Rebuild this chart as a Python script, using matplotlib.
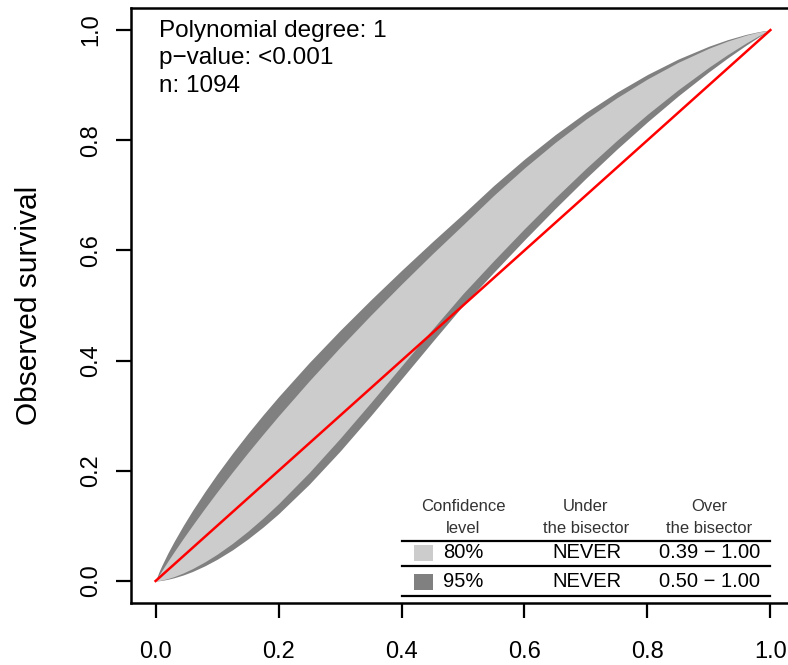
import matplotlib
matplotlib.use('Agg')
import matplotlib.pyplot as plt
from matplotlib.patches import Rectangle

plt.rcParams['font.family'] = ['Liberation Sans', 'DejaVu Sans']

# calibration belt (expected vs observed survival)
expected = [0, 0.005, 0.01, 0.02, 0.03, 0.045, 0.06, 0.08, 0.1, 0.125, 0.15, 0.175,
            0.2, 0.25, 0.3, 0.35, 0.4, 0.45, 0.5, 0.55, 0.6, 0.65, 0.7, 0.75,
            0.8, 0.85, 0.9, 0.93, 0.96, 0.98, 0.99, 1.0]
upper_95 = [0, 0.0153, 0.0279, 0.0507, 0.0715, 0.1006, 0.1278, 0.1618, 0.1939, 0.2317,
            0.2676, 0.3017, 0.3344, 0.3965, 0.4547, 0.5102, 0.5637, 0.6156, 0.6660,
            0.7178, 0.7658, 0.8101, 0.8506, 0.8870, 0.9193, 0.9473, 0.9707, 0.9824,
            0.9920, 0.9969, 0.9988, 1.0]
upper_80 = [0, 0.0096, 0.0186, 0.0360, 0.0528, 0.0773, 0.1010, 0.1318, 0.1616, 0.1977,
            0.2327, 0.2666, 0.2997, 0.3633, 0.4241, 0.4825, 0.5389, 0.5936, 0.6465,
            0.6999, 0.7498, 0.7960, 0.8384, 0.8769, 0.9112, 0.9414, 0.9670, 0.9799,
            0.9906, 0.9963, 0.9985, 1.0]
lower_80 = [0, 0.0006, 0.0016, 0.0044, 0.0079, 0.0145, 0.0224, 0.0346, 0.0485, 0.0682,
            0.0902, 0.1143, 0.1403, 0.1970, 0.2587, 0.3237, 0.3902, 0.4566, 0.5215,
            0.5814, 0.6395, 0.6954, 0.7488, 0.7994, 0.8471, 0.8916, 0.9325, 0.9552,
            0.9762, 0.9890, 0.9949, 1.0]
lower_95 = [0, 0.0004, 0.0010, 0.0031, 0.0058, 0.0109, 0.0172, 0.0274, 0.0393, 0.0564,
            0.0761, 0.0980, 0.1220, 0.1757, 0.2355, 0.2999, 0.3667, 0.4339, 0.5000,
            0.5602, 0.6191, 0.6761, 0.7310, 0.7835, 0.8333, 0.8804, 0.9242, 0.9489,
            0.9722, 0.9868, 0.9937, 1.0]

bisector = [0, 1]
info_lines = ['Polynomial degree: 1', 'p\u2212value: <0.001', 'n: 1094']
conf_levels = ['80%', '95%']
under_bisector = ['NEVER', 'NEVER']
over_bisector = ['0.39 \u2212 1.00', '0.50 \u2212 1.00']
header = [('Confidence', 'level'), ('Under', 'the bisector'), ('Over', 'the bisector')]
ticks = [0.0, 0.2, 0.4, 0.6, 0.8, 1.0]
tick_labels = ['0.0', '0.2', '0.4', '0.6', '0.8', '1.0']

light = '#cccccc'
dark = '#808080'

fig = plt.figure(figsize=(7.88, 6.65), dpi=100)
ax = fig.add_axes([131 / 788, 62 / 665, 664 / 788, 595 / 665])

ax.fill_between(expected, lower_95, upper_95, color=dark, lw=0)
ax.fill_between(expected, lower_80, upper_80, color=light, lw=0)
ax.plot(bisector, bisector, color='red', lw=1.8)

ax.set_xlim(-0.04, 1.04)
ax.set_ylim(-0.04, 1.04)
ax.set_xticks(ticks)
ax.set_xticklabels(tick_labels)
ax.set_yticks(ticks)
ax.set_yticklabels(tick_labels, rotation=90, va='center')
ax.tick_params(axis='both', length=11, width=1.6, labelsize=17)
ax.tick_params(axis='x', pad=16)
ax.tick_params(axis='y', pad=10)
for sp in ax.spines.values():
    sp.set_linewidth(1.8)

fig.text(37 / 788, 0.541, 'Observed survival', rotation=90, rotation_mode='anchor',
         ha='center', va='baseline', fontsize=21.5)

# info text top-left
for i, line in enumerate(info_lines):
    ax.text(0.005, 0.988 - i * 0.05, line, fontsize=17.5, ha='left', va='baseline')

# belt table
col_x = [0.50, 0.70, 0.90]
for cx, (h1, h2) in zip(col_x, header):
    ax.text(cx, 0.136, h1, fontsize=12, color='#333333', ha='center', va='center')
    ax.text(cx, 0.096, h2, fontsize=12, color='#333333', ha='center', va='center')

for ly in [0.0731, 0.0272, -0.0272]:
    ax.plot([0.40, 1.0], [ly, ly], color='black', lw=1.6, clip_on=False)

row_y = [0.0508, -0.0018]
for ry, lvl, under, over, col in zip(row_y, conf_levels, under_bisector, over_bisector,
                                     [light, dark]):
    ax.add_patch(Rectangle((0.4195, ry - 0.0145), 0.0325, 0.029, color=col, lw=0))
    ax.text(0.468, ry, lvl, fontsize=14.5, ha='left', va='center')
    ax.text(0.702, ry, under, fontsize=14.5, ha='center', va='center')
    ax.text(0.901, ry, over, fontsize=14.5, ha='center', va='center')

fig.savefig('out.png', dpi=100)
